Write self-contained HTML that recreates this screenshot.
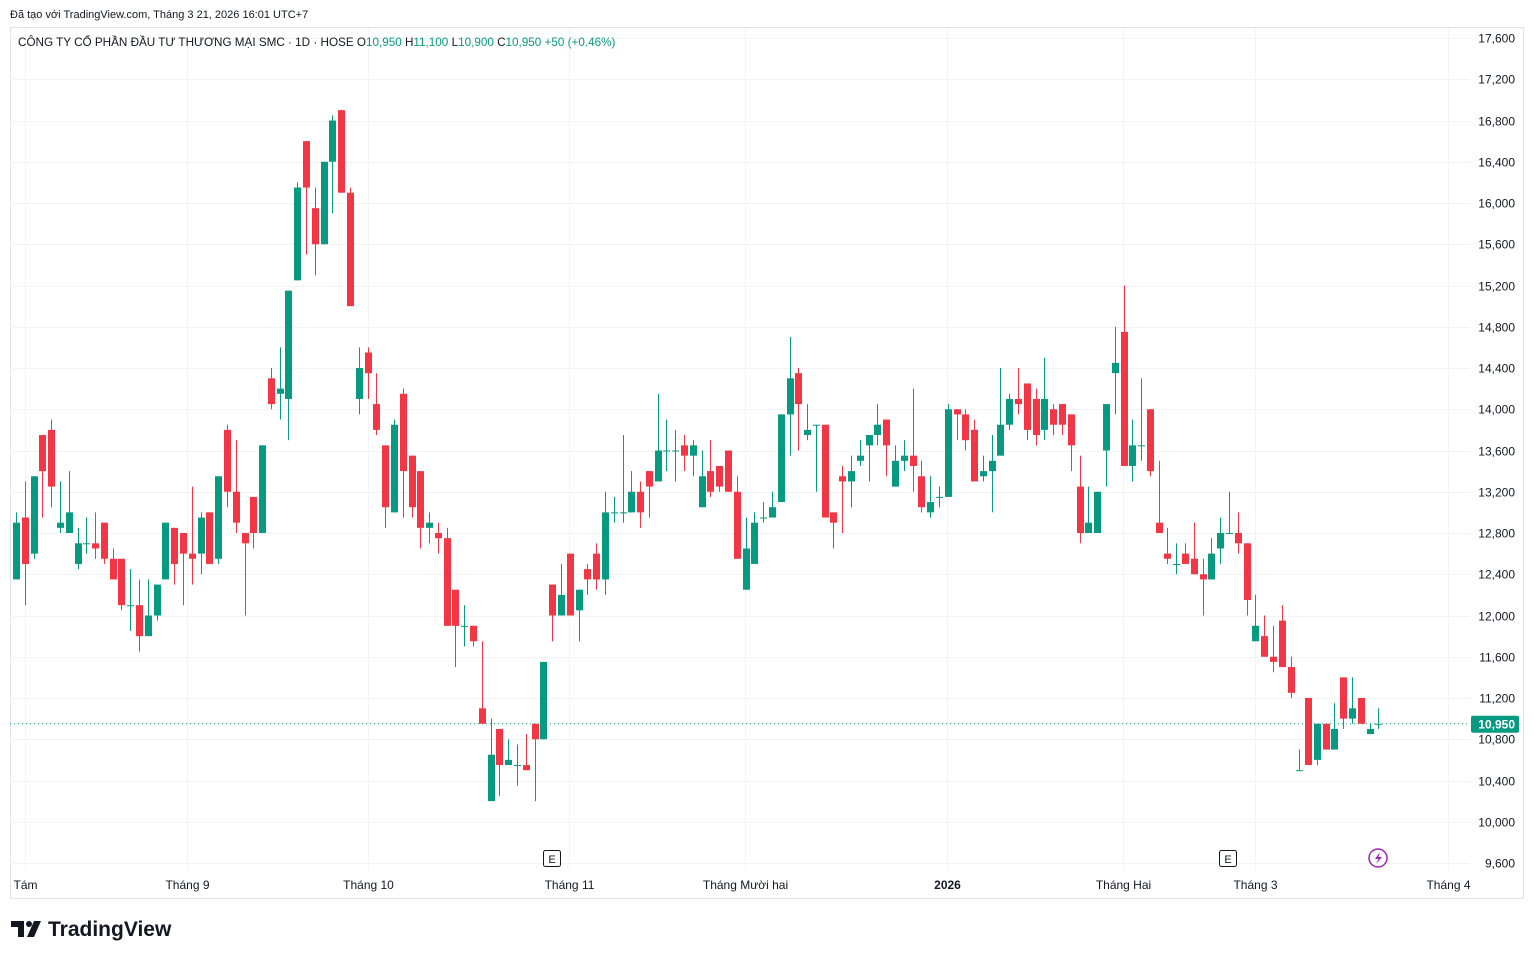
<!DOCTYPE html>
<html><head><meta charset="utf-8"><style>
body{margin:0;background:#fff;font-family:"Liberation Sans","Noto Sans CJK JP",sans-serif;}
#wrap{position:relative;width:1534px;height:959px;overflow:hidden;}
svg text{font-family:"Liberation Sans","Noto Sans CJK JP",sans-serif;}
</style></head><body>
<div id="wrap">
<svg id="chart" width="1534" height="959"></svg>
</div>
<script>
const opens=[12350,12950,12600,13750,13800,12850,12800,12500,12700,12700,12900,12550,12550,12100,12100,11800,12000,12350,12850,12800,12600,12600,13000,12550,13800,13200,12800,13150,12800,14300,14150,14100,15250,16600,15950,15600,16400,16900,16100,14100,14550,14050,13650,13000,14150,13550,13400,12850,12800,12750,12250,11900,11900,11100,10200,10900,10550,10550,10550,10950,10800,12300,12000,12600,12050,12450,12600,12350,13000,13000,13000,13200,13400,13300,13600,13600,13650,13550,13050,13400,13450,13600,13200,12250,12500,12950,12950,13100,13950,14350,13750,13850,13850,13000,13350,13300,13500,13650,13750,13900,13250,13500,13550,13350,13000,13150,13150,14000,13950,13800,13350,13400,13550,13850,14100,14250,14100,13800,14000,14050,13950,13250,12800,12800,13600,14350,14750,13450,13650,14000,12900,12600,12500,12600,12550,12400,12350,12650,12800,12800,12700,11750,11800,11600,11950,11500,10500,11200,10600,10950,10700,11400,11000,11200,10850,10950];
const highs=[13000,13300,13350,13750,13900,13300,13400,12850,12950,13000,12900,12650,12550,12450,12350,12350,12300,12900,12850,12800,13250,13000,13000,13350,13850,13700,12800,13150,13650,14400,14600,15150,16200,16600,16150,16400,16850,16900,16150,14600,14600,14350,13650,13900,14200,13550,13400,13000,12900,12850,12250,12100,11900,11750,11000,10900,10800,10750,10850,10950,11550,12300,12500,12600,12250,12500,12700,13200,13150,13750,13400,13300,13400,14150,13900,13800,13750,13700,13600,13700,13450,13600,13350,12950,13000,13100,13200,13950,14700,14400,14050,13850,13850,13000,13450,13550,13700,13750,14050,13900,13650,13700,14200,13500,13350,13250,14050,14000,14000,13900,13550,13750,14400,14150,14400,14250,14200,14500,14050,14050,13950,13550,13250,13200,14050,14800,15200,13900,14300,14000,13500,12850,12700,12700,12900,12550,12750,12950,13200,13000,12700,12200,12000,11900,12100,11600,10700,11200,10950,10950,11150,11400,11400,11200,10950,11100];
const lows=[12350,12100,12550,12950,13050,12800,12800,12450,12600,12550,12500,12350,12050,11850,11650,11800,11950,12350,12300,12100,12300,12400,12500,12500,13050,12800,12000,12650,12800,14000,13900,13700,15250,15500,15300,15600,15900,16100,15000,13950,14100,13750,12850,13000,12950,12950,12650,12700,12600,11900,11500,11700,11700,10950,10200,10250,10550,10350,10500,10200,10800,11750,12000,12000,11750,12200,12250,12200,12900,12900,13000,12850,12950,13300,13400,13300,13400,13350,13050,13150,13200,13200,12550,12250,12500,12900,12950,13100,13550,13600,13700,13200,12950,12650,12800,13050,13450,13300,13650,13350,13250,13400,13200,13000,12950,13050,13150,13700,13600,13300,13300,13000,13550,13800,13950,13700,13650,13700,13750,13750,13400,12700,12800,12800,13250,13950,13450,13300,13500,13350,12800,12500,12400,12500,12400,12000,12350,12500,12800,12600,12000,11750,11600,11450,11500,11200,10500,10550,10550,10700,10700,10900,10950,10950,10850,10900];
const closes=[12900,12500,13350,13400,13250,12900,13000,12700,12700,12650,12550,12350,12100,12100,11800,12000,12300,12900,12500,12600,12550,12950,12500,13350,13200,12900,12700,12800,13650,14050,14200,15150,16150,16150,15600,16400,16800,16100,15000,14400,14350,13800,13050,13850,13400,13050,12850,12900,12750,11900,11900,11900,11750,10950,10650,10550,10600,10550,10500,10800,11550,12000,12200,12000,12250,12350,12350,13000,13000,13000,13200,13000,13250,13600,13600,13600,13550,13650,13350,13200,13250,13200,12550,12650,12900,12950,13050,13950,14300,14050,13800,13850,12950,12900,13300,13400,13550,13750,13850,13650,13500,13550,13450,13050,13100,13150,14000,13950,13700,13300,13400,13500,13850,14100,14050,13800,13750,14100,13850,13850,13650,12800,12900,13200,14050,14450,13450,13650,13650,13400,12800,12550,12500,12500,12400,12350,12600,12800,12800,12700,12150,11900,11600,11550,11500,11250,10500,10550,10950,10700,10900,11000,11100,10950,10900,10950];
const priceTicks=[17600,17200,16800,16400,16000,15600,15200,14800,14400,14000,13600,13200,12800,12400,12000,11600,11200,10800,10400,10000,9600];
const timeLabels=["Tám","Tháng 9","Tháng 10","Tháng 11","Tháng Mười hai","2026","Tháng Hai","Tháng 3","Tháng 4"];
const timeIdx=[1.02,19.45,40.05,62.9,82.9,105.9,125.9,140.95,162.9];
const lastPrice=10950;

const NS="http://www.w3.org/2000/svg";
const svg=document.getElementById('chart');
const X0=16, DX=8.79, PL=10, PR=1470, PT=28, PB=870;
function xs(i){return X0+i*DX;}
function ys(p){return 38+(17600-p)*0.103125;}
function mk(tag,attrs,parent){const e=document.createElementNS(NS,tag);for(const k in attrs)e.setAttribute(k,attrs[k]);(parent||svg).appendChild(e);return e;}
function fmt(v){return v.toLocaleString('en-US');}

let e=mk('rect',{x:10.5,y:27.5,width:1513,height:871,fill:'none',stroke:'#e0e3eb'});


const gridG=mk('g',{});


priceTicks.forEach(p=>{
  const y=Math.round(ys(p))+0.5;
  const l=mk('line',{x1:PL,x2:PR,y1:y,y2:y,stroke:'#f2f3f5'},gridG);
  
  
  const t=mk('text',{x:1515,y:y+4,'text-anchor':'end','font-size':12,fill:'#131722'});
  t.textContent=fmt(p);
  
  
});
timeLabels.forEach((s,k)=>{
  const x=Math.round(xs(timeIdx[k]))+0.5;
  const l=mk('line',{x1:x,x2:x,y1:PT,y2:PB,stroke:'#f2f3f5'},gridG);
  
  
  const t=mk('text',{x:x,y:889,'text-anchor':'middle','font-size':12,fill:'#131722','font-weight':s==='2026'?'bold':'normal'});
  t.textContent=s;
  
  
});
e=mk('line',{x1:PL,x2:PR,y1:ys(lastPrice),y2:ys(lastPrice),stroke:'#089981','stroke-dasharray':'1 3'});


const cg=mk('g',{});


for(let i=0;i<opens.length;i++){
  const o=opens[i],h=highs[i],l=lows[i],c=closes[i];
  const col=c>=o?'#089981':'#F23645';
  const x=Math.round(xs(i));
  const g=mk('g',{},cg);
  
  
  mk('rect',{x:x,y:ys(h),width:1,height:Math.max(1,ys(l)-ys(h)),fill:col},g);
  const top=ys(Math.max(o,c)),bot=ys(Math.min(o,c));
  mk('rect',{x:x-3,y:top,width:7,height:Math.max(1,bot-top),fill:col},g);
}
const by=ys(lastPrice);
e=mk('rect',{x:1471,y:by-8,width:48,height:17,rx:2,fill:'#089981'});


e=mk('text',{x:1515,y:by+4.5,'text-anchor':'end','font-size':12,'font-weight':'bold',fill:'#fff'});
e.textContent=fmt(lastPrice);


[[552,'earnings-marker-nov'],[1228,'earnings-marker-mar']].forEach(([x,n])=>{
  const g=mk('g',{});
  
  
  mk('rect',{x:x-8.5,y:850.5,width:17,height:16,rx:2,fill:'#fff',stroke:'#131722'},g);
  const t=mk('text',{x:x,y:863,'text-anchor':'middle','font-size':11,fill:'#131722'},g);t.textContent='E';
});
e=mk('g',{});


mk('circle',{cx:1378,cy:858,r:9,fill:'#fff',stroke:'#9c27b0','stroke-width':1.5},e);
mk('path',{d:'M1380 852 L1375 859 L1378.5 859 L1376 864 L1382 857 L1378.5 857 Z',fill:'#9c27b0'},e);
e=mk('text',{x:10,y:18,'font-size':11,fill:'#131722'});
e.textContent='Đã tạo với TradingView.com, Tháng 3 21, 2026 16:01 UTC+7';


const ttl=mk('text',{x:18,y:46,'font-size':11.7,fill:'#131722'});


function span(txt,fill){const s=mk('tspan',{fill:fill},ttl);s.textContent=txt;return s;}
span('CÔNG TY CỔ PHẦN ĐẦU TƯ THƯƠNG MẠI SMC · 1D · HOSE  ','#131722');
span('O','#131722');span('10,950 ','#089981');
span('H','#131722');span('11,100 ','#089981');
span('L','#131722');span('10,900 ','#089981');
span('C','#131722');span('10,950 ','#089981');
span(' +50 (+0.46%)','#089981');
e=mk('g',{});


mk('path',{d:'M11 921 H24 V937 H18 V927 H11 Z',fill:'#131722'},e);
mk('circle',{cx:29,cy:924,r:3,fill:'#131722'},e);
mk('path',{d:'M34 921 H41 L34 937 H27 Z',fill:'#131722'},e);
const lt=mk('text',{x:48,y:936,'font-size':21,'font-weight':'bold',fill:'#131722'},e);
lt.textContent='TradingView';
</script>
</body></html>
